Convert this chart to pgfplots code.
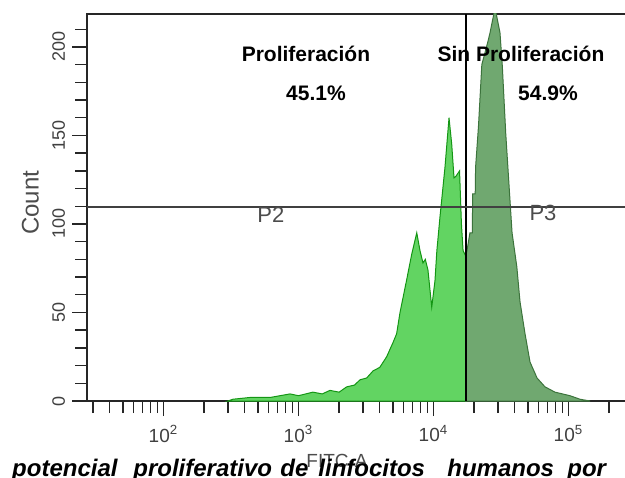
\documentclass[border=0pt]{standalone}
\usepackage{fontspec}
\setmainfont{Liberation Sans}
\usepackage{pgfplots}
\pgfplotsset{compat=1.18}
\definecolor{lgreen}{RGB}{98,212,98}
\definecolor{dgreen}{RGB}{112,168,112}
\definecolor{lgedge}{RGB}{20,150,20}
\definecolor{dgedge}{RGB}{60,115,60}
\begin{document}
\begin{tikzpicture}
\useasboundingbox (0,0) rectangle (312.5pt,238.5pt);
\begin{axis}[
  at={(43.5pt,38pt)}, anchor=south west,
  scale only axis, width=270pt, height=193.5pt,
  xmode=log, xmin=27.13, xmax=271300, ymin=0, ymax=218.6,
  /pgf/number format/assume math mode=true,
  axis line style={black!85, line width=0.9pt},
  tick align=outside, xtick pos=bottom, ytick pos=left,
  xtick={100,1000,10000,100000},
  xticklabels={10\textsuperscript{2},10\textsuperscript{3},10\textsuperscript{4},10\textsuperscript{5}},
  minor xtick={30,40,50,60,70,80,90,200,300,400,500,600,700,800,900,2000,3000,4000,5000,6000,7000,8000,9000,20000,30000,40000,50000,60000,70000,80000,90000,200000},
  ytick={0,50,100,150,200},
  minor ytick={10,20,30,40,60,70,80,90,110,120,130,140,160,170,180,190,210},
  major tick length=7.5pt, minor tick length=6pt,
  every tick/.style={black!85, line width=0.7pt},
  x tick label style={font=\fontsize{9.5}{10}\selectfont, text=black!75, yshift=-1pt},
  y tick label style={font=\fontsize{9}{10}\selectfont, text=black!75, rotate=90, anchor=south},
  xlabel={FITC-A},
  every axis x label/.style={at={(axis description cs:0.463,-0.155)}, anchor=center, font=\fontsize{9.5}{10}\selectfont, text=black!70},
  ylabel={Count},
  every axis y label/.style={at={(axis description cs:-0.105,0.512)}, rotate=90, anchor=center, font=\fontsize{12}{13}\selectfont, text=black!70},
]
% Proliferation region (left of gate)
\addplot[fill=lgreen, draw=lgedge, line width=0.5pt] coordinates {
(300,0) (327,1) (437,2) (617,2) (865,4) (1000,3) (1279,5) (1500,4) (1710,6) (2000,5)
(2275,8) (2600,9) (2858,12) (3200,13) (3565,17) (4000,19) (4498,25) (5012,33) (5333,38)
(5649,50) (6310,68) (6902,83) (7516,95) (7943,85) (8356,78) (8700,80) (9099,74) (9705,53)
(10257,68) (10593,85) (11169,104) (12162,132) (13032,160) (13646,145) (14191,126)
(14689,127) (15596,130) (16106,100) (16558,85) (17320,82)
} \closedcycle;
% Non-proliferation region (right of gate)
\addplot[fill=dgreen, draw=dgedge, line width=0.5pt] coordinates {
(17320,82) (17701,85) (18621,95) (19400,95) (19500,117) (20370,117) (20500,132)
(21528,155) (22803,190) (25293,203) (26220,208) (28576,222) (31090,208) (32359,189)
(34300,151) (36898,113) (38194,95) (41400,76) (43752,56) (47643,38) (51880,22)
(58479,13) (66988,8) (79433,5) (102565,3) (121619,1) (144544,0)
} \closedcycle;
% gates
\addplot[black, line width=1pt] coordinates {(17320,0) (17320,218.6)};
\addplot[black!75, line width=1.3pt] coordinates {(27.13,109.6) (271300,109.6)};
\node[text=black!70, font=\fontsize{11}{12}\selectfont] at (axis cs:625,105) {P2};
\node[text=black!70, font=\fontsize{11}{12}\selectfont] at (axis cs:64700,106) {P3};
\node[font=\bfseries\fontsize{10.5}{12}\selectfont] at (axis cs:1136,196) {Proliferación};
\node[font=\bfseries\fontsize{10.5}{12}\selectfont] at (axis cs:1348,174) {45.1\%};
\node[font=\bfseries\fontsize{10.5}{12}\selectfont] at (axis cs:44460,196) {Sin Proliferación};
\node[font=\bfseries\fontsize{10.5}{12}\selectfont] at (axis cs:70470,174) {54.9\%};
\end{axis}
\begin{scope}[every node/.style={font=\bfseries\itshape\fontsize{12}{13}\selectfont, inner sep=0pt}]
\node[anchor=base east] at (59pt,0.3pt) {potencial};
\node[anchor=base west] at (66.5pt,0.3pt) {proliferativo};
\node[anchor=base west] at (140pt,0.3pt) {de};
\node[anchor=base west] at (159pt,0.3pt) {linfocitos};
\node[anchor=base west] at (223.5pt,0.3pt) {humanos};
\node[anchor=base west] at (283.5pt,0.3pt) {por};
\end{scope}
\end{tikzpicture}
\end{document}
